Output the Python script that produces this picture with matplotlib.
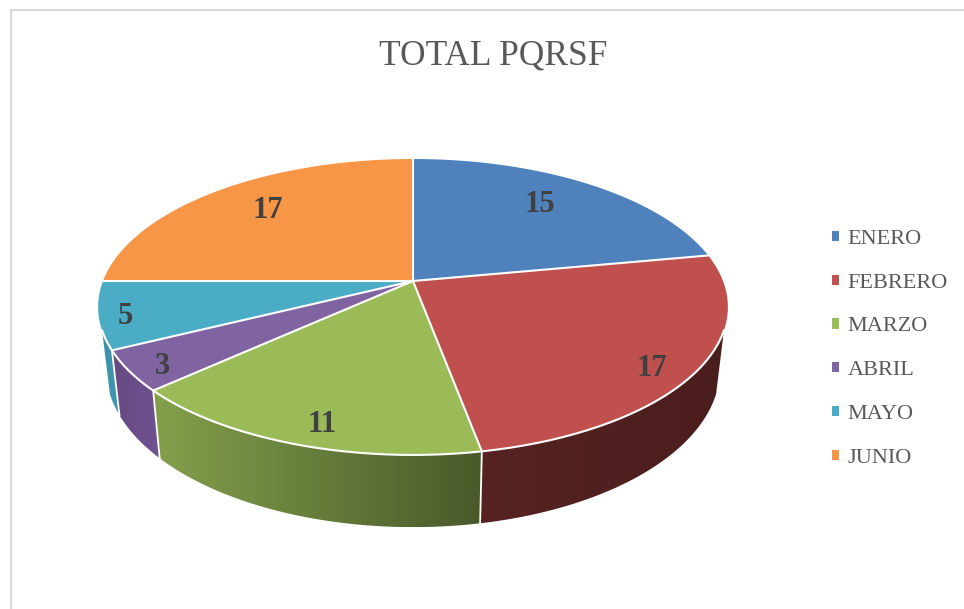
import matplotlib
matplotlib.use("Agg")
import matplotlib.pyplot as plt
from matplotlib import patches
import numpy as np

TITLE = "TOTAL PQRSF"
MONTHS = ["ENERO", "FEBRERO", "MARZO", "ABRIL", "MAYO", "JUNIO"]
VALUES = [15, 17, 11, 3, 5, 17]
COLORS = ["#4f81bd", "#c0504d", "#9bbb59", "#8064a2", "#4bacc6", "#f79646"]

# side wall shading, left colour -> right colour (None = wall is hidden)
SIDES = [None, ("#562322", "#4a1e1d"), ("#84a04c", "#49592a"),
         ("#664a82", "#6f5190"), ("#3d90a8", "#4097b0"), None]
LABEL_XY = [(540, 205), (652, 368), (322, 424), (162, 367), (125, 316), (268, 210)]

W, H = 964, 609
CX, CY = 413, 281
AX, AY, K = 310.0, 143.4, 0.1756
# lower rim of the wall
SCALE_X, BOT_Y, SCALE_Y = 0.975, 341.0, 1.07
# wall is visible from here to here (degrees clockwise from top)
VIS_FROM, VIS_TO = 109.0, 251.0


def top_pt(deg):
    t = np.radians(deg)
    u, v = np.sin(t), np.cos(t)
    w = 1 + K * v
    return CX + AX * u / w, CY - AY * v / w


def bot_pt(deg):
    t = np.radians(deg)
    u, v = np.sin(t), np.cos(t)
    w = 1 + K * v
    return CX + SCALE_X * AX * u / w, BOT_Y - SCALE_Y * AY * v / w


fig = plt.figure(figsize=(W / 100, H / 100), dpi=100)
ax = fig.add_axes([0, 0, 1, 1])
ax.axis("off")

# chart frame
ax.plot([10.5, 10.5, W], [H, 10, 10], color="#d9d9d9", lw=1.6, zorder=1)

edges = np.concatenate([[0], np.cumsum(VALUES)]) / np.sum(VALUES) * 360

# walls: a horizontal gradient clipped to the wall outline
for i in range(len(VALUES)):
    if SIDES[i] is None:
        continue
    a0 = max(edges[i], VIS_FROM)
    a1 = min(edges[i + 1], VIS_TO)
    angs = np.linspace(a0, a1, 120)
    outline = [top_pt(a) for a in angs] + [bot_pt(a) for a in angs[::-1]]
    xs = [p[0] for p in outline]
    ys = [p[1] for p in outline]
    c0 = np.array(matplotlib.colors.to_rgb(SIDES[i][0]))
    c1 = np.array(matplotlib.colors.to_rgb(SIDES[i][1]))
    grad = np.linspace(0, 1, 256)[:, None]
    img = (c0 + (c1 - c0) * grad)[None, :, :]
    im = ax.imshow(img, extent=(min(xs), max(xs), max(ys), min(ys)), aspect="auto",
                   interpolation="bilinear", zorder=2)
    poly = patches.Polygon(outline, closed=True, facecolor="none", edgecolor="none",
                           transform=ax.transData)
    ax.add_patch(poly)
    im.set_clip_path(poly)

ax.set_xlim(0, W)
ax.set_ylim(H, 0)

# white seams on the wall
for e in edges:
    if VIS_FROM < e < VIS_TO:
        p1, p2 = top_pt(e), bot_pt(e)
        ax.plot([p1[0], p2[0]], [p1[1], p2[1]], color="white", lw=1.3, zorder=3)

# top face
for i in range(len(VALUES)):
    angs = np.linspace(edges[i], edges[i + 1], 200)
    pts = [(CX, CY)] + [top_pt(a) for a in angs]
    ax.add_patch(patches.Polygon(pts, closed=True, facecolor=COLORS[i], edgecolor="none", zorder=4))

# white lines between slices and on the front rim
for i in range(len(VALUES)):
    x, y = top_pt(edges[i])
    ax.plot([CX, x], [CY, y], color="white", lw=1.5, zorder=5, solid_capstyle="round")
angs = np.linspace(VIS_FROM, VIS_TO, 200)
rim = np.array([top_pt(a) for a in angs])
ax.plot(rim[:, 0], rim[:, 1], color="white", lw=1.5, zorder=5)

for i in range(len(VALUES)):
    ax.text(LABEL_XY[i][0], LABEL_XY[i][1], str(VALUES[i]), ha="center", va="center",
            family="Liberation Serif", weight="bold", fontsize=22, color="#404040", zorder=6)

ax.text(493, 56, TITLE, ha="center", va="center", family="Liberation Serif",
        fontsize=25.5, color="#595959")

handles = [patches.Patch(facecolor=c, edgecolor="none") for c in COLORS]
ax.legend(handles, MONTHS, loc="upper left", bbox_to_anchor=(832, 230),
          bbox_transform=ax.transData, frameon=False,
          prop={"family": "Liberation Serif", "size": 16}, labelcolor="#595959",
          handlelength=0.33, handleheight=0.33, handletextpad=0.36, labelspacing=1.113,
          borderpad=0, borderaxespad=0)

fig.savefig("out.png", dpi=100)
